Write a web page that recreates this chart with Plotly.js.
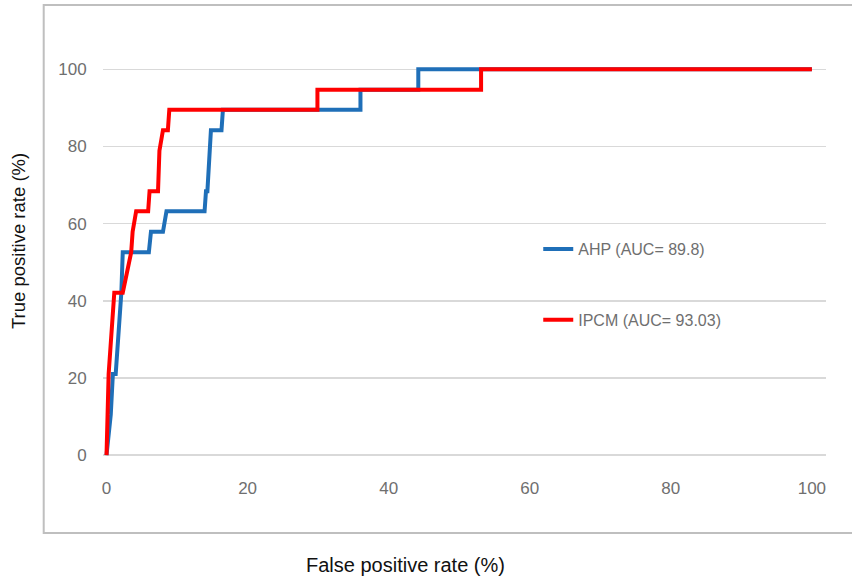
<!DOCTYPE html>
<html>
<head>
<meta charset="utf-8">
<script src="https://cdn.plot.ly/plotly-3.0.1.min.js"></script>
<style>html,body{margin:0;padding:0;background:#fff;}#chart{width:852px;height:580px;}</style>
</head>
<body>
<div id="chart"></div>
<script>
// Data
const ahpName = 'AHP (AUC= 89.8)';
const ipcmName = 'IPCM (AUC= 93.03)';
const ahpFpr = [0, 0.6, 0.9, 1.3, 2.1, 2.3, 6.0, 6.3, 8.0, 8.5, 13.9, 14.1, 14.3, 14.8, 16.3, 16.5, 36.0, 36.0, 44.2, 44.2, 100];
const ahpTpr = [0, 10.5, 21.05, 21.05, 42.1, 52.6, 52.6, 57.9, 57.9, 63.2, 63.2, 68.4, 68.4, 84.2, 84.2, 89.5, 89.5, 94.7, 94.7, 100, 100];
const ipcmFpr = [0, 0.3, 1.1, 2.3, 3.5, 3.7, 4.2, 5.9, 6.1, 7.3, 7.5, 8.0, 8.7, 8.9, 29.9, 29.9, 53.1, 53.1, 100];
const ipcmTpr = [0, 21.05, 42.1, 42.1, 52.6, 57.9, 63.2, 63.2, 68.4, 68.4, 78.9, 84.2, 84.2, 89.5, 89.5, 94.7, 94.7, 100, 100];
const xTicks = [0, 20, 40, 60, 80, 100];
const yTicks = [0, 20, 40, 60, 80, 100];
const xTitle = 'False positive rate (%)';
const yTitle = 'True positive rate (%)';

const tickFont = {family: 'Liberation Sans, Arial, sans-serif', size: 17, color: '#6f6f6f'};

const traces = [
  {x: ahpFpr, y: ahpTpr, name: ahpName, mode: 'lines', legendgroup: 'a',
   line: {color: '#1f6fb8', width: 4}},
  {x: ipcmFpr, y: ipcmTpr, name: ipcmName, mode: 'lines', legendgroup: 'b',
   line: {color: '#ff0000', width: 4}}
];

const layout = {
  width: 852, height: 580,
  margin: {l: 103, r: 26, t: 50, b: 121},
  paper_bgcolor: '#ffffff', plot_bgcolor: '#ffffff',
  showlegend: true,
  legend: {x: 0.602, y: 0.555, xanchor: 'left', yanchor: 'top',
    bgcolor: 'rgba(0,0,0,0)', traceorder: 'grouped', tracegroupgap: 47,
    font: {family: 'Liberation Sans, Arial, sans-serif', size: 16, color: '#6f6f6f'}},
  xaxis: {range: [-0.5, 102], tickvals: xTicks, ticktext: xTicks.map(String),
    showgrid: false, zeroline: false, showline: false,
    ticks: 'outside', ticklen: 14, tickcolor: 'rgba(0,0,0,0)',
    tickfont: tickFont},
  yaxis: {range: [-1, 105], tickvals: yTicks, ticktext: yTicks.map(String),
    showgrid: true, gridcolor: '#d9d9d9', gridwidth: 1.5, zeroline: false, showline: false,
    ticks: 'outside', ticklen: 12, tickcolor: 'rgba(0,0,0,0)',
    tickfont: tickFont},
  shapes: [
    {type: 'rect', xref: 'paper', yref: 'paper',
     x0: -0.082, x1: 1.04, y0: -0.181, y1: 1.11,
     line: {color: '#bfbfbf', width: 2}, fillcolor: 'rgba(0,0,0,0)', layer: 'below'}
  ],
  annotations: [
    {text: xTitle, xref: 'paper', yref: 'paper', x: (405-103)/723, y: (459-565)/409,
     xanchor: 'center', yanchor: 'middle', showarrow: false,
     font: {family: 'Liberation Sans, Arial, sans-serif', size: 20, color: '#111'}},
    {text: yTitle, xref: 'paper', yref: 'paper', x: (18-103)/723, y: (459-241)/409,
     xanchor: 'center', yanchor: 'middle', showarrow: false, textangle: -90,
     font: {family: 'Liberation Sans, Arial, sans-serif', size: 18.5, color: '#111'}}
  ]
};

Plotly.newPlot('chart', traces, layout, {displayModeBar: false, staticPlot: true});
</script>
</body>
</html>
